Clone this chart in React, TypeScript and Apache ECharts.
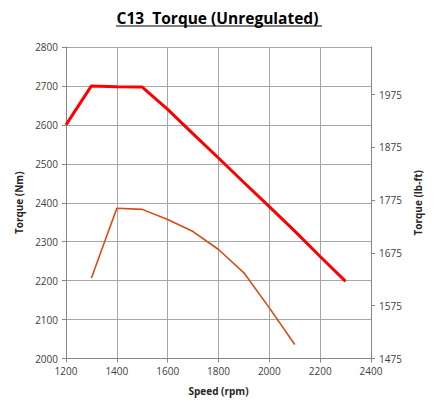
import React, { useEffect, useRef } from "react";
import * as echarts from "echarts";

const speedRpm = [1200, 1300, 1400, 1500, 1600, 1700, 1800, 1900, 2000, 2100, 2200, 2300];
const torqueHigh = [2600, 2700, 2698, 2697, 2640, 2577, 2515, 2452, 2390, 2327, 2262, 2198];
const speedLow = [1300, 1400, 1500, 1600, 1700, 1800, 1900, 2000, 2100];
const torqueLow = [2207, 2386, 2383, 2357, 2326, 2280, 2220, 2130, 2036];
const NM_TO_LBFT = 0.73756;

const FONT = "'Open Sans', 'Liberation Sans', sans-serif";

export default function App() {
  const ref = useRef<HTMLDivElement>(null);
  useEffect(() => {
    if (!ref.current) return;
    const chart = echarts.init(ref.current, undefined, { renderer: "svg" });
    const plain = (v: number) => String(Math.round(v));
    const axisLabel = { color: "#404040", fontSize: 10, fontFamily: FONT, formatter: plain };
    const axisLine = { show: true, lineStyle: { color: "#868686", width: 1 } };
    const axisTick = { show: true, length: 4, lineStyle: { color: "#868686" } };
    const splitLine = { show: true, lineStyle: { color: "#a6a6a6", width: 1 } };
    const nameStyle = { color: "#262626", fontSize: 10, fontWeight: "bold" as const, fontFamily: FONT };
    chart.setOption({
      animation: false,
      backgroundColor: "#ffffff",
      title: {
        text: "C13  Torque (Unregulated)",
        left: "center",
        top: 5,
        textStyle: { fontFamily: FONT, fontSize: 15.5, fontWeight: "bold", color: "#000000" },
      },
      graphic: [
        {
          type: "line",
          shape: { x1: 116, y1: 26, x2: 322, y2: 26 },
          style: { stroke: "#000000", lineWidth: 1.2 },
        },
      ],
      grid: { left: 66, right: 64, top: 47, bottom: 44.5 },
      xAxis: {
        type: "value",
        min: 1200,
        max: 2400,
        interval: 200,
        name: "Speed (rpm)",
        nameLocation: "middle",
        nameGap: 27,
        nameTextStyle: nameStyle,
        axisLabel: { ...axisLabel, margin: 7 },
        axisLine,
        axisTick,
        splitLine,
      },
      yAxis: [
        {
          type: "value",
          min: 2000,
          max: 2800,
          interval: 100,
          name: "Torque (Nm)",
          nameLocation: "middle",
          nameGap: 38,
          nameTextStyle: nameStyle,
          axisLabel: { ...axisLabel, margin: 8 },
          axisLine,
          axisTick,
          splitLine,
        },
        {
          type: "value",
          position: "right",
          min: 1475,
          max: 2800 * NM_TO_LBFT,
          interval: 100,
          name: "Torque (lb-ft)",
          nameLocation: "middle",
          nameGap: 38,
          nameTextStyle: nameStyle,
          axisLabel: { ...axisLabel, margin: 8, showMaxLabel: false },
          axisLine,
          axisTick,
          splitLine: { show: false },
        },
      ],
      series: [
        {
          type: "line",
          yAxisIndex: 0,
          data: speedRpm.map((s, i) => [s, torqueHigh[i]]),
          showSymbol: false,
          lineStyle: { color: "#ff0000", width: 3 },
          itemStyle: { color: "#ff0000" },
        },
        {
          type: "line",
          yAxisIndex: 0,
          data: speedLow.map((s, i) => [s, torqueLow[i]]),
          showSymbol: false,
          lineStyle: { color: "#dc4a14", width: 1.6 },
          itemStyle: { color: "#dc4a14" },
        },
      ],
    });
    return () => chart.dispose();
  }, []);
  return (
    <div
      ref={ref}
      style={{ position: "fixed", left: 0, top: 0, width: 435, height: 403 }}
    />
  );
}
